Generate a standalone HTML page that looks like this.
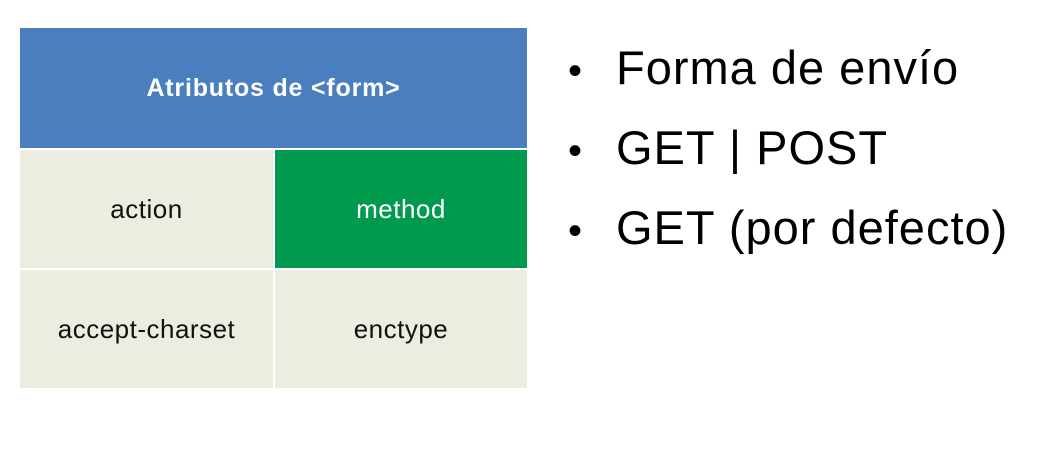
<!DOCTYPE html>
<html><head><meta charset="utf-8"><style>
body{margin:0;width:1049px;height:449px;background:#fff;position:relative;overflow:hidden;font-family:"Liberation Sans",sans-serif}
.c{position:absolute;display:flex;align-items:center;justify-content:center;font-size:26px;letter-spacing:0.5px;color:#111}
.b{position:absolute;left:568px;font-size:47px;letter-spacing:1px;color:#000;line-height:48px;white-space:nowrap}
.b span{display:inline-block;width:48px;letter-spacing:0;font-size:40px}
</style></head><body>
<div class="c" style="left:20px;top:28px;width:507px;height:120px;background:#4a7ebf;color:#fff;font-weight:bold;font-size:25px;letter-spacing:0.8px">Atributos de &lt;form&gt;</div>
<div class="c" style="left:20px;top:150px;width:253px;height:118px;background:#eaeddf">action</div>
<div class="c" style="left:275px;top:150px;width:252px;height:118px;background:#009a4e;color:#fff">method</div>
<div class="c" style="left:20px;top:270px;width:253px;height:118px;background:#eaeddf">accept-charset</div>
<div class="c" style="left:275px;top:270px;width:252px;height:118px;background:#eaeddf">enctype</div>
<div class="b" style="top:44px"><span>•</span>Forma de envío</div>
<div class="b" style="top:124px"><span>•</span>GET | POST</div>
<div class="b" style="top:204px"><span>•</span>GET (por defecto)</div>
</body></html>
